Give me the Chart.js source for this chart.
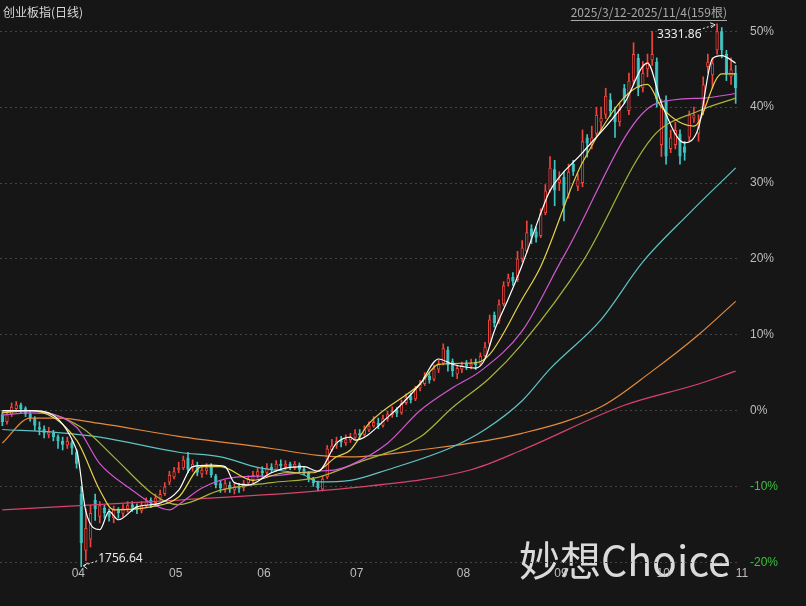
<!DOCTYPE html>
<html><head><meta charset="utf-8">
<script src="https://cdn.jsdelivr.net/npm/chart.js@4.4.1/dist/chart.umd.min.js"></script>
<style>html,body{margin:0;padding:0;background:#161616;}#wrap{width:806px;height:606px;}</style>
</head><body><div id="wrap"><canvas id="c" width="806" height="606"></canvas></div>
<script>
const openV=[-0.5,-1.5,-0.5,0.2,0.8,0.3,-0.4,-1.0,-2.2,-2.4,-3.2,-2.9,-3.4,-4.0,
-4.6,-4.2,-5.5,-11.0,-18.5,-17.0,-11.8,-14.0,-12.8,-13.5,-14.2,-13.0,-13.6,-13.0,-12.4,-12.6,-13.2,-12.6,-11.8,-12.2,-11.6,
-11.0,-9.5,-8.8,-7.8,-7.6,-6.2,-7.6,-7.2,-8.4,-8.0,-7.4,-8.6,-9.6,-10.4,-9.8,-10.5,-10.0,-10.2,-9.6,
-9.2,-8.6,-7.9,-8.2,-7.4,-7.8,-7.0,-7.4,-7.0,-7.5,-7.1,-7.7,-8.2,-9.0,-9.5,-10.4,-8.8,-5.2,-4.6,-3.9,
-4.3,-3.9,-3.6,-3.0,-3.2,-2.6,-2.1,-1.6,-2.0,-1.1,-0.6,0.1,-0.3,1.0,1.9,1.5,2.9,3.5,4.6,4.1,5.4,6.2,8.0,
6.5,4.8,5.4,6.2,5.8,6.4,6.2,7.2,8.8,12.6,11.8,14.0,16.8,17.6,17.2,20.0,21.0,24.0,23.6,23.0,26.0,
29.0,31.8,30.0,30.8,28.5,32.5,29.5,30.0,36.0,35.0,36.5,38.0,39.0,41.0,39.0,38.0,42.5,39.5,43.5,46.5,42.5,45.0,
46.2,46.0,35.0,41.0,34.5,35.0,36.5,34.8,36.0,38.5,36.5,39.5,45.3,44.2,47.5,50.0,47.0,44.0,44.5];
const closeV=[-1.5,-0.5,0.5,0.8,0.2,-0.5,-1.0,-2.0,-2.5,-3.0,-2.8,-3.5,-4.0,-4.5,
-4.0,-5.0,-7.0,-17.5,-15.5,-13.5,-13.0,-12.5,-13.5,-14.0,-13.0,-13.5,-12.8,-12.5,-12.8,-13.0,-12.5,-12.0,-12.2,-11.5,-11.0,
-10.0,-8.5,-8.0,-7.5,-6.5,-7.8,-7.0,-8.2,-7.8,-7.5,-8.5,-9.8,-10.2,-9.6,-10.4,-10.0,-10.3,-9.6,-9.0,
-8.5,-8.0,-8.3,-7.5,-7.8,-7.0,-7.3,-7.0,-7.4,-7.0,-7.8,-8.2,-9.0,-9.6,-10.2,-9.0,-5.0,-4.6,-4.0,-4.2,
-3.8,-3.5,-3.0,-3.3,-2.5,-2.0,-1.5,-2.0,-1.0,-0.5,0.0,-0.4,1.0,1.8,1.4,2.8,3.5,4.5,4.0,5.5,6.2,8.2,6.0,
5.2,5.6,6.0,5.8,6.2,6.0,7.2,8.4,12.0,11.5,14.0,16.5,17.5,17.0,20.0,21.5,23.5,23.0,22.8,26.0,29.0,
32.0,29.0,30.5,27.0,31.5,31.5,30.5,35.5,35.2,36.0,39.0,38.6,41.5,39.5,38.0,39.8,41.2,43.5,47.0,42.5,44.5,46.0,
47.0,41.0,40.0,33.5,36.0,37.0,33.5,34.0,39.0,39.0,37.5,43.0,46.0,45.8,50.0,47.5,44.5,45.0,42.5];
const highV=[0,0,1.0,1.2,1.0,0.5,0,-0.8,-1.5,-2.0,-2.2,-2.6,-3.2,-3.5,
-3.5,-4.0,-5.2,-10.0,-13.0,-12.5,-11.0,-12.0,-12.5,-13.0,-12.6,-12.8,-12.4,-12.0,-12.0,-12.3,-12.0,-11.5,-11.5,-11.0,-10.5,
-9.5,-8.0,-7.5,-6.8,-6.0,-5.5,-6.5,-6.8,-7.2,-7.0,-7.0,-8.4,-9.2,-9.2,-9.4,-9.6,-9.6,-9.2,-8.6,
-8.0,-7.5,-7.4,-7.0,-7.0,-6.6,-6.5,-6.6,-6.8,-6.7,-6.9,-7.4,-8.0,-8.8,-9.3,-8.6,-4.6,-3.8,-3.5,-3.4,
-3.2,-3.0,-2.5,-2.5,-2.0,-1.5,-0.8,-1.0,-0.6,0,0.5,0.4,1.4,2.2,2.3,3.2,4.0,5.0,5.0,6.0,6.6,8.8,8.4,
6.8,6.0,6.4,6.6,6.8,6.8,7.6,9.0,12.6,13.0,14.6,17.0,18.0,18.2,21.0,22.4,25.0,24.5,24.2,26.6,29.8,
33.5,33.0,31.5,31.5,32.5,33.0,31.2,37.0,36.4,37.5,40.0,40.0,42.5,41.8,40.0,40.5,43.0,44.5,48.5,47.0,46.0,47.0,
50.0,46.5,41.0,41.5,37.0,38.0,37.0,35.5,39.5,40.0,39.0,44.0,47.0,46.5,51.0,50.5,47.5,46.5,45.5];
const lowV=[-2,-1.8,-0.8,-0.2,-0.3,-0.8,-1.4,-2.6,-3.2,-3.6,-3.6,-4.0,-5.0,-5.2,
-5.0,-5.8,-7.6,-20.6,-19.8,-18.0,-14.5,-14.8,-14.2,-14.6,-14.8,-14.2,-14.0,-13.4,-13.3,-13.6,-13.5,-12.8,-12.8,-12.6,-11.8,
-11.2,-9.8,-9.0,-8.2,-7.8,-8.2,-8.0,-8.6,-8.8,-8.4,-8.8,-10.2,-10.8,-10.8,-10.8,-11.0,-10.8,-10.6,-9.9,
-9.5,-8.9,-8.8,-8.5,-8.2,-8.0,-7.8,-7.8,-7.8,-7.8,-8.1,-8.5,-9.4,-10.0,-10.6,-10.6,-9.0,-5.4,-5.0,-4.8,
-4.6,-4.2,-3.8,-3.8,-3.4,-2.8,-2.2,-2.4,-2.2,-1.4,-0.9,-0.8,-0.5,0.8,1.0,1.3,2.6,3.3,3.6,3.9,5.0,6.0,5.2,
4.5,4.2,5.0,5.4,5.5,5.4,6.0,7.0,8.6,11.0,11.5,13.8,16.4,16.5,17.0,19.6,20.8,22.0,22.2,22.8,25.8,
28.8,27.0,29.0,25.0,28.0,31.0,29.0,29.5,33.4,34.5,36.2,37.0,38.5,38.8,36.0,37.5,40.5,39.0,43.0,41.5,42.0,44.0,
45.5,40.0,33.5,32.5,34.0,34.5,32.5,33.0,35.5,38.0,35.5,39.0,44.5,42.5,47.0,46.5,43.5,43.0,40.5];
const monthTicks={14:'04',35:'05',54:'06',74:'07',97:'08',118:'09',140:'10',157:'11'};
const yTickValues=[-20,-10,0,10,20,30,40,50];
const ma5Points=[[0,0],[6,0],[16,-5.2],[18,-13.3],[21,-15.7],[23,-13.3],[25,-14.4],[29,-12.7],[34,-12.2],[38,-10.5],[41,-7.4],[45,-7.2],[48,-7.4],[50,-9.5],[53,-9.8],[58,-8.2],[61,-7.6],[65,-7.4],[68,-8.0],[72,-4.3],[75,-3.5],[76,-3.9],[83,-0.9],[90,3.5],[94,6.8],[97,6.1],[102,5.6],[104,6.8],[106,10.5],[109,14.7],[112,19.2],[116,26],[118,29],[125,34],[134,40.5],[139,45.8],[142,40.5],[147,35.3],[150,37.3],[153,46.4],[155,46.8],[158,45.8]];
const ma10Points=[[0,-0.3],[6,0],[16,-3.9],[21,-10.5],[24,-13.1],[32,-12.7],[38,-11.4],[43,-7.4],[47,-7.4],[54,-9.2],[61,-8.2],[67,-8.2],[72,-6.1],[75,-5.2],[79,-1.7],[90,3.5],[94,6.1],[102,6.3],[105,7.4],[112,14.7],[116,19],[125,32.7],[139,43],[142,40],[149,37.5],[155,44.4],[158,44.4]];
const ma20Points=[[0,-0.6],[6,-0.3],[16,-2.2],[21,-7],[28,-10.5],[32,-12.2],[36,-13.1],[38,-12.4],[43,-10.2],[50,-8.8],[58,-8.6],[67,-8.0],[72,-7.8],[75,-7.2],[83,-4.3],[90,0],[97,3],[103,5.2],[112,10.5],[121,20.4],[141,40.5],[151,41.2],[158,41.8]];
const ma30Points=[[0,-0.2],[6,0],[17,-2.2],[24,-6.1],[32,-10.8],[36,-12.2],[38,-12.4],[47,-10.5],[58,-9.5],[68,-8.8],[76,-7],[90,-3.5],[97,0.4],[105,4.3],[112,8.8],[125,19.6],[140,36],[150,39.5],[158,41.2]];
const ma60Points=[[0,-2.5],[12,-2.9],[21,-3.5],[38,-5.5],[47,-6.1],[55,-7.5],[65,-8.5],[68,-9.4],[75,-9.2],[83,-7.8],[97,-4.8],[104,-2.5],[112,1.3],[118,5.5],[129,12],[138,19.6],[148,26],[158,32]];
const ma120Points=[[0,-4.3],[6,-1.0],[12,-1.0],[21,-1.7],[38,-3.4],[58,-5.0],[68,-5.9],[75,-6.1],[90,-5.2],[112,-3.0],[129,0.5],[140,5.2],[150,10],[158,14.4]];
const ma250Points=[[0,-13.1],[38,-11.8],[75,-10.2],[101,-7.8],[112,-5.2],[134,0.7],[150,3.5],[158,5.2]];
const maColors=['#ffffff','#e6d24a','#d357d0','#a9b33a','#5fc3c3','#e58a3c','#d9436d'];
const highIdx=154, highLabel='3331.86', lowIdx=17, lowLabel='1756.64';

const N=closeV.length;
const labels=Array.from({length:N},(_,i)=>i);
const RED='#f0443c', TEAL='#42c6c4', BG='#161616';
const up=closeV.map((c,i)=>c>=openV[i]);
function toSeries(pts){const a=new Array(N).fill(null);pts.forEach(p=>a[p[0]]=p[1]);return a;}
const maSets=[ma5Points,ma10Points,ma20Points,ma30Points,ma60Points,ma120Points,ma250Points].map((p,k)=>({
 type:'line',data:toSeries(p),borderColor:maColors[k],borderWidth:1.2,pointRadius:0,spanGaps:true,clip:false,
 cubicInterpolationMode:'monotone',order:k+1}));

const bgPlugin={id:'bg',beforeDraw(ch){const c=ch.ctx;c.save();c.fillStyle=BG;c.fillRect(0,0,ch.width,ch.height);
 c.font='41px "Noto Sans CJK SC",sans-serif';c.fillStyle='rgba(235,235,235,0.92)';c.textBaseline='alphabetic';
 c.fillText('妙想Choice',519,576);c.restore();}};
const textPlugin={id:'txt',afterDraw(ch){
 const c=ch.ctx,x=ch.scales.x,y=ch.scales.y;c.save();
 c.font='12px "Noto Sans CJK SC","Noto Sans",sans-serif';c.fillStyle='#d8d8d8';c.textBaseline='middle';
 c.fillText('创业板指(日线)',3,12);
 c.fillStyle='#a8a8a8';const t='2025/3/12-2025/11/4(159根)';const w=c.measureText(t).width;
 c.fillText(t,727-w,12);c.fillRect(727-w,20,w,1);
 c.font='12px "Noto Sans",sans-serif';c.fillStyle='#e8e8e8';c.strokeStyle='#e8e8e8';c.lineWidth=1;
 let hx=x.getPixelForValue(highIdx),hy=y.getPixelForValue(highV[highIdx]);
 c.textBaseline='middle';c.fillText(highLabel,hx-60,hy+11);
 c.setLineDash([2,2]);c.beginPath();c.moveTo(hx-18,hy+6);c.lineTo(hx-2,hy+1);c.stroke();c.setLineDash([]);
 c.beginPath();c.moveTo(hx-2,hy+1);c.lineTo(hx-7,hy-1);c.moveTo(hx-2,hy+1);c.lineTo(hx-6,hy+4);c.stroke();
 let lx=x.getPixelForValue(lowIdx),ly=y.getPixelForValue(lowV[lowIdx]);
 c.fillText(lowLabel,lx+17,ly-8);
 c.setLineDash([2,2]);c.beginPath();c.moveTo(lx+16,ly-6);c.lineTo(lx+2,ly-1);c.stroke();c.setLineDash([]);
 c.beginPath();c.moveTo(lx+2,ly-1);c.lineTo(lx+7,ly-4);c.moveTo(lx+2,ly-1);c.lineTo(lx+6,ly+2);c.stroke();
 c.restore();}};

new Chart(document.getElementById('c'),{
 data:{labels,datasets:[
  ...maSets,
  {type:'bar',data:openV.map((o,i)=>[o,closeV[i]]),backgroundColor:up.map(u=>u?BG:TEAL),borderColor:up.map(u=>u?RED:TEAL),
   borderWidth:1,borderSkipped:false,grouped:false,barPercentage:0.72,categoryPercentage:1,order:20,clip:false},
  {type:'bar',data:lowV.map((l,i)=>[l,highV[i]]),backgroundColor:up.map(u=>u?RED:TEAL),barThickness:1,grouped:false,order:30,clip:false}
 ]},
 options:{responsive:false,animation:false,devicePixelRatio:1,
  layout:{padding:{left:0,right:0,top:0,bottom:0}},
  plugins:{legend:{display:false},tooltip:{enabled:false}},
  scales:{
   x:{type:'category',offset:true,grid:{display:false},border:{display:false},
    ticks:{autoSkip:false,maxRotation:0,color:'#bdbdbd',font:{size:12},padding:-5,labelOffset:11,callback:(v,i)=>monthTicks[i]||''},
    afterFit(s){s.height=43;}},
   y:{position:'right',min:-20.1,max:51.6,border:{display:false,dash:[2,3]},
    grid:{color:'#444444',drawTicks:false,lineWidth:1},
    afterBuildTicks(s){s.ticks=yTickValues.map(v=>({value:v}));},
    ticks:{color:(c)=>c.tick&&c.tick.value<0?'#39c23d':'#bdbdbd',font:{size:12},padding:12,
     callback:(v)=>v+'%'},
    afterFit(s){s.width=68;}}
  }},
 plugins:[bgPlugin,textPlugin]
});
</script></body></html>
